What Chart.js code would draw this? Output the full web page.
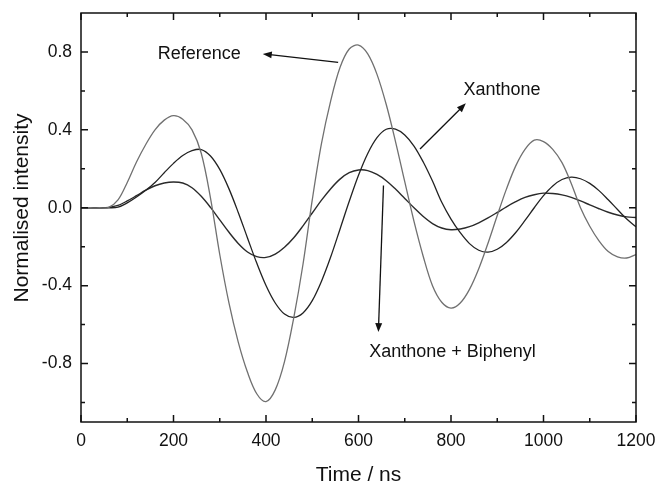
<!DOCTYPE html>
<html>
<head>
<meta charset="utf-8">
<title>Normalised intensity vs time</title>
<script src="https://cdn.jsdelivr.net/npm/chart.js@4.4.1/dist/chart.umd.min.js"></script>
<style>
  html, body { margin: 0; padding: 0; background: #fff; }
  canvas { display: block; }
</style>
</head>
<body>
<canvas id="chart" width="661" height="486"></canvas>
<script>
// time axis (ns), one sample every 20 ns
const times = [
  0, 20, 40, 60, 80, 100, 120, 140, 160, 180,
  200, 220, 240, 260, 280, 300, 320, 340, 360, 380,
  400, 420, 440, 460, 480, 500, 520, 540, 560, 580,
  600, 620, 640, 660, 680, 700, 720, 740, 760, 780,
  800, 820, 840, 860, 880, 900, 920, 940, 960, 980,
  1000, 1020, 1040, 1060, 1080, 1100, 1120, 1140, 1160, 1180,
  1200
];

// values
const reference = [
  0, 0, 0, 0.002, 0.04, 0.13, 0.235, 0.325, 0.40, 0.45,
  0.473, 0.455, 0.40, 0.28, 0.05, -0.24, -0.49, -0.69, -0.845, -0.955,
  -0.995, -0.935, -0.79, -0.565, -0.29, 0.04, 0.33, 0.55, 0.72, 0.815,
  0.835, 0.79, 0.685, 0.53, 0.34, 0.134, -0.07, -0.25, -0.40, -0.485,
  -0.515, -0.489, -0.419, -0.313, -0.182, -0.04, 0.097, 0.215, 0.30, 0.347,
  0.340, 0.300, 0.232, 0.125, 0.0, -0.095, -0.17, -0.225, -0.252, -0.258,
  -0.24
];

const xanthone = [
  0, 0, 0, 0, 0.003, 0.025, 0.055, 0.09, 0.13, 0.18,
  0.228, 0.268, 0.293, 0.299, 0.266, 0.197, 0.097, -0.024, -0.155, -0.284,
  -0.399, -0.489, -0.546, -0.563, -0.54, -0.477, -0.377, -0.252, -0.11, 0.033,
  0.167, 0.279, 0.36, 0.403, 0.404, 0.374, 0.317, 0.235, 0.137, 0.028,
  -0.058, -0.128, -0.184, -0.218, -0.228, -0.213, -0.178, -0.127, -0.065, 0.0,
  0.062, 0.112, 0.145, 0.157, 0.149, 0.125, 0.088, 0.041, -0.009, -0.058,
  -0.098
];

const xanthoneBiphenyl = [
  0, 0, 0, 0.002, 0.012, 0.035, 0.062, 0.09, 0.113, 0.127,
  0.132, 0.127, 0.103, 0.059, 0.002, -0.062, -0.126, -0.183, -0.227, -0.251,
  -0.255, -0.238, -0.203, -0.154, -0.093, -0.027, 0.039, 0.098, 0.147, 0.18,
  0.194, 0.191, 0.171, 0.139, 0.096, 0.048, 0.0, -0.045, -0.081, -0.104,
  -0.113, -0.109, -0.097, -0.077, -0.052, -0.024, 0.005, 0.031, 0.053, 0.067,
  0.075, 0.073, 0.066, 0.053, 0.035, 0.015, -0.005, -0.023, -0.037, -0.047,
  -0.05
];

// tick labels
const xTicks = [0, 200, 400, 600, 800, 1000, 1200];
const xMinorTicks = [100, 300, 500, 700, 900, 1100];
const yTicks = [-0.8, -0.4, 0.0, 0.4, 0.8];
const yMinorTicks = [-1.0, -0.6, -0.2, 0.2, 0.6];

const xTitle = 'Time / ns';
const yTitle = 'Normalised intensity';

// labels with arrows, placed in data units
const notes = [
  { text: 'Reference', at: [166, 0.791], from: [556, 0.747], to: [393, 0.79] },
  { text: 'Xanthone', at: [827, 0.605], from: [733, 0.302], to: [832, 0.536] },
  { text: 'Xanthone + Biphenyl', at: [623, -0.74], from: [654, 0.114], to: [643, -0.638] }
];

const FONT = '"Liberation Sans", Arial, Helvetica, sans-serif';
const INK = '#111';

function toPoints(values) {
  return times.map((t, i) => ({ x: t, y: values[i] }));
}

function drawArrow(ctx, x1, y1, x2, y2) {
  const ang = Math.atan2(y2 - y1, x2 - x1);
  const len = 9, half = 3.5;
  ctx.beginPath();
  ctx.moveTo(x1, y1);
  ctx.lineTo(x2 - Math.cos(ang) * len * 0.8, y2 - Math.sin(ang) * len * 0.8);
  ctx.stroke();
  ctx.beginPath();
  ctx.moveTo(x2, y2);
  ctx.lineTo(x2 - Math.cos(ang) * len - Math.sin(ang) * half, y2 - Math.sin(ang) * len + Math.cos(ang) * half);
  ctx.lineTo(x2 - Math.cos(ang) * len + Math.sin(ang) * half, y2 - Math.sin(ang) * len - Math.cos(ang) * half);
  ctx.closePath();
  ctx.fill();
}

// frame, inward ticks on all four sides, notes and axis titles
const framePlugin = {
  id: 'frameAndNotes',
  afterDraw(chart) {
    const { ctx, chartArea: a, scales: { x, y } } = chart;
    ctx.save();
    ctx.strokeStyle = INK;
    ctx.fillStyle = INK;
    ctx.lineWidth = 1.5;
    ctx.strokeRect(a.left, a.top, a.right - a.left, a.bottom - a.top);

    const tick = (list, len) => {
      list.forEach(v => {
        const px = x.getPixelForValue(v);
        ctx.beginPath();
        ctx.moveTo(px, a.bottom); ctx.lineTo(px, a.bottom - len);
        ctx.moveTo(px, a.top); ctx.lineTo(px, a.top + len);
        ctx.stroke();
      });
    };
    const ytick = (list, len) => {
      list.forEach(v => {
        const py = y.getPixelForValue(v);
        ctx.beginPath();
        ctx.moveTo(a.left, py); ctx.lineTo(a.left + len, py);
        ctx.moveTo(a.right, py); ctx.lineTo(a.right - len, py);
        ctx.stroke();
      });
    };
    tick(xTicks, 7);
    tick(xMinorTicks, 4);
    ytick(yTicks, 7);
    ytick(yMinorTicks, 4);

    // notes
    ctx.lineWidth = 1.3;
    ctx.font = '18px ' + FONT;
    ctx.textAlign = 'left';
    ctx.textBaseline = 'middle';
    notes.forEach(n => {
      ctx.fillText(n.text, x.getPixelForValue(n.at[0]), y.getPixelForValue(n.at[1]));
      drawArrow(ctx,
        x.getPixelForValue(n.from[0]), y.getPixelForValue(n.from[1]),
        x.getPixelForValue(n.to[0]), y.getPixelForValue(n.to[1]));
    });

    // axis titles
    ctx.font = '21px ' + FONT;
    ctx.textAlign = 'center';
    ctx.fillText(xTitle, (a.left + a.right) / 2, 475);
    ctx.translate(22, 208);
    ctx.rotate(-Math.PI / 2);
    ctx.fillText(yTitle, 0, 0);
    ctx.restore();
  }
};

const ctx = document.getElementById('chart').getContext('2d');
new Chart(ctx, {
  type: 'line',
  data: {
    datasets: [
      { label: 'Reference', data: toPoints(reference), borderColor: '#707070', borderWidth: 1.3 },
      { label: 'Xanthone', data: toPoints(xanthone), borderColor: '#222', borderWidth: 1.3 },
      { label: 'Xanthone + Biphenyl', data: toPoints(xanthoneBiphenyl), borderColor: '#2a2a2a', borderWidth: 1.4 }
    ]
  },
  options: {
    responsive: false,
    animation: false,
    layout: { padding: { top: 13, right: 25, left: 0, bottom: 0 } },
    elements: {
      point: { radius: 0 },
      line: { tension: 0.35, fill: false }
    },
    plugins: {
      legend: { display: false },
      tooltip: { enabled: false }
    },
    scales: {
      x: {
        type: 'linear',
        min: 0,
        max: 1200,
        afterBuildTicks(s) { s.ticks = xTicks.map(v => ({ value: v })); },
        afterFit(s) { s.height = 64; s.paddingLeft = 0; s.paddingRight = 0; },
        grid: { display: false, drawTicks: false },
        border: { display: false },
        ticks: {
          color: INK,
          padding: 9,
          maxRotation: 0,
          autoSkip: false,
          font: { family: FONT, size: 17.5 },
          callback(value) { return String(value); }
        }
      },
      y: {
        type: 'linear',
        min: -1.1,
        max: 1.0,
        afterBuildTicks(s) { s.ticks = yTicks.map(v => ({ value: v })); },
        afterFit(s) { s.width = 81; s.paddingTop = 0; s.paddingBottom = 0; },
        grid: { display: false, drawTicks: false },
        border: { display: false },
        ticks: {
          color: INK,
          padding: 9,
          font: { family: FONT, size: 17.5 },
          callback(value) { return Number(value).toFixed(1); }
        }
      }
    }
  },
  plugins: [framePlugin]
});
</script>
</body>
</html>
